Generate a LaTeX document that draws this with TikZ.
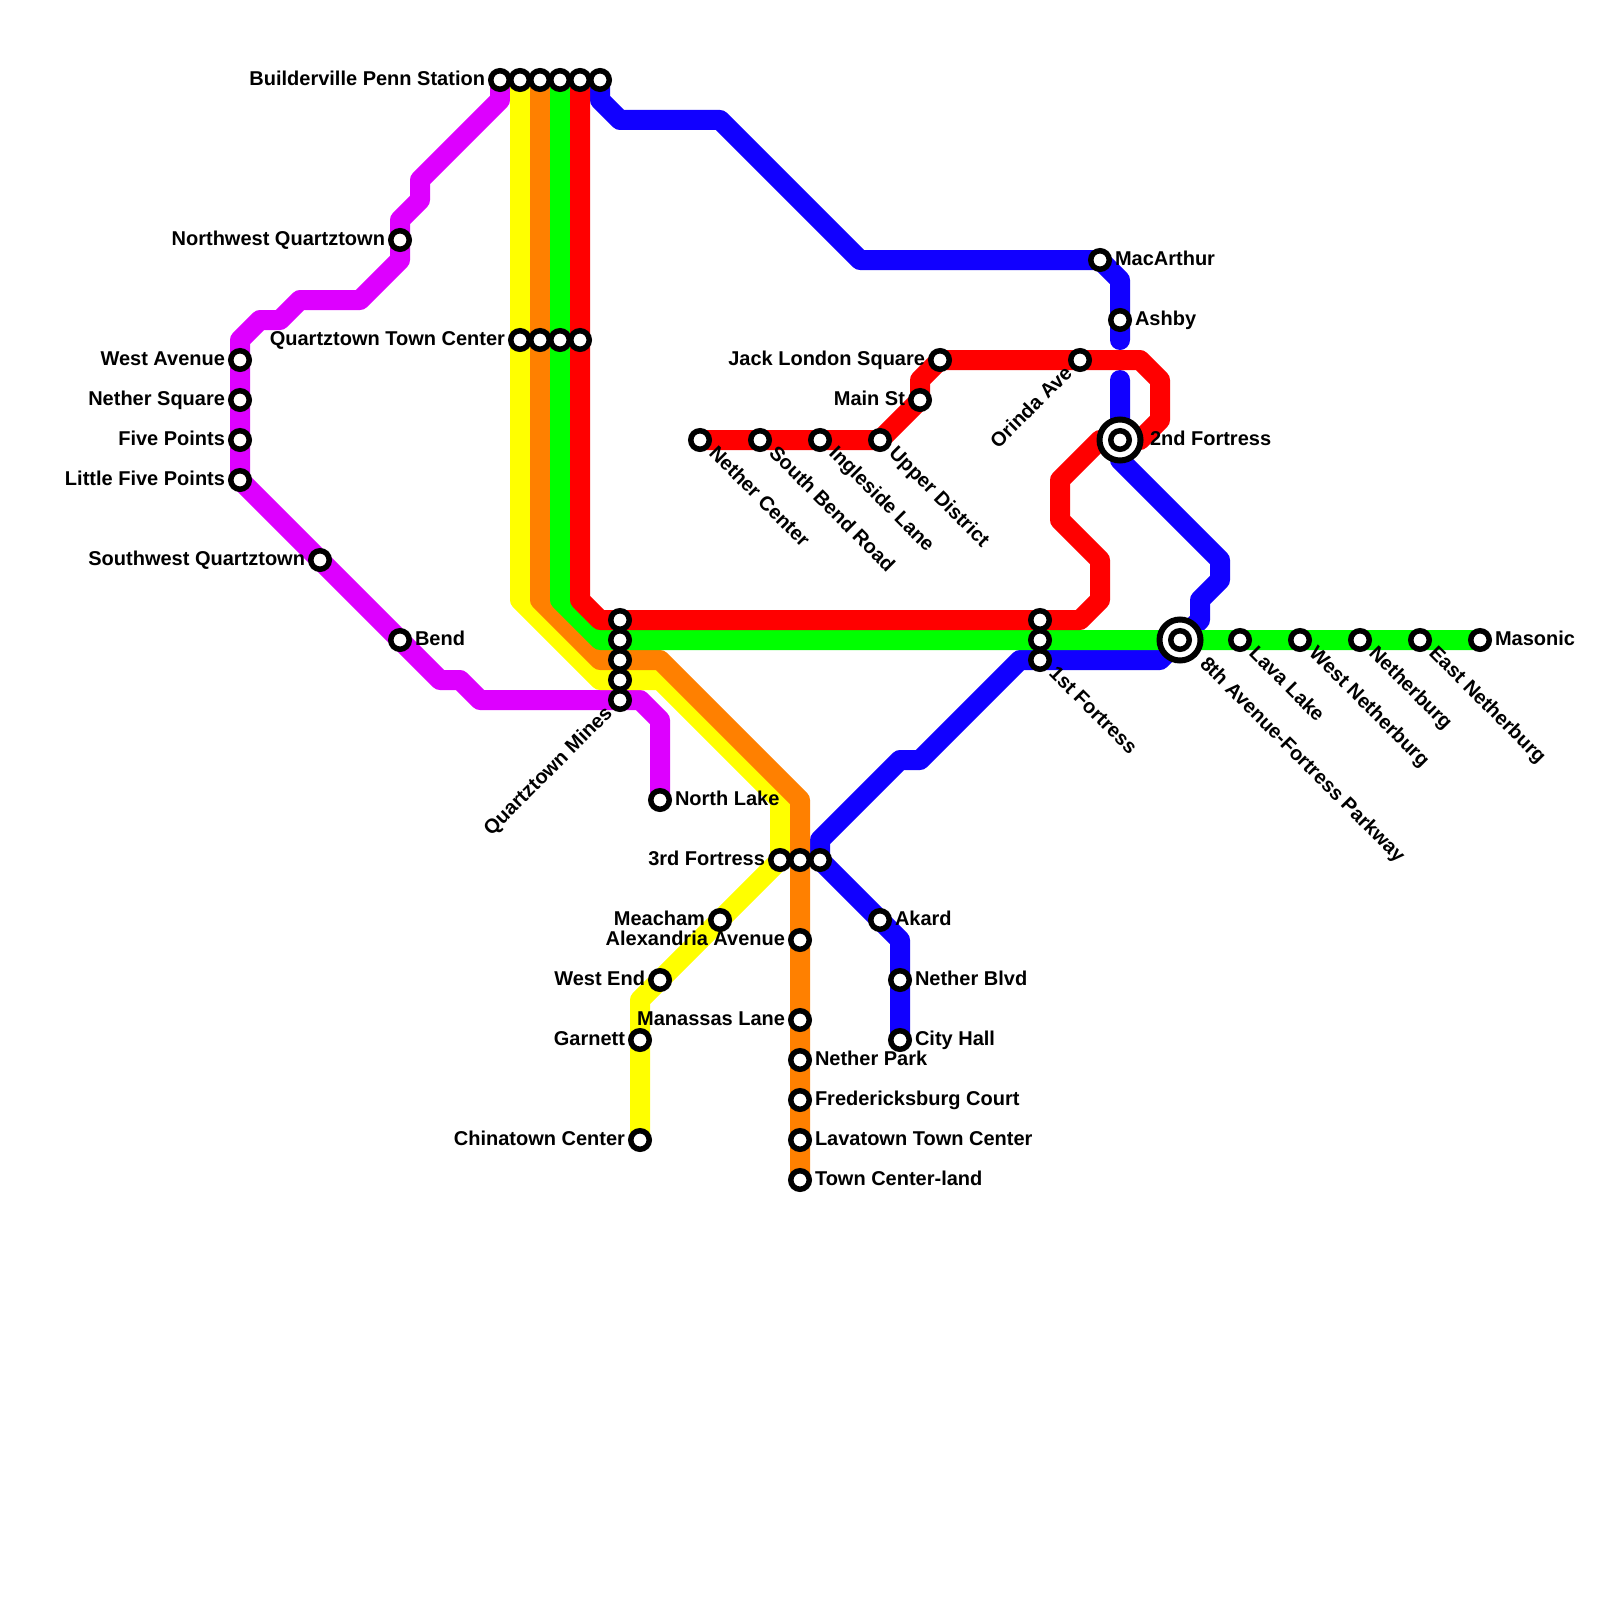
\documentclass[tikz,border=0pt]{standalone}
\usepackage{fontspec}
\setmainfont{Liberation Sans}
\usetikzlibrary{backgrounds}
\definecolor{cblue}{RGB}{17,0,255}
\definecolor{cpurple}{RGB}{221,0,255}
\definecolor{cred}{RGB}{255,0,0}
\definecolor{cgreen}{RGB}{0,255,0}
\definecolor{cyellow}{RGB}{255,255,0}
\definecolor{corange}{RGB}{255,128,0}
\tikzset{
  stn/.style={circle,draw=black,fill=white,line width=5.5pt,minimum size=18.5pt,inner sep=0pt,outer sep=0pt},
  hub/.style={circle,draw=black,fill=white,line width=6pt,minimum size=41pt,inner sep=0pt,outer sep=0pt,
    path picture={\draw[black,line width=5.5pt] (path picture bounding box.center) circle (9.25pt);}},
  lbl/.style={font=\fontsize{20}{24}\selectfont\bfseries,inner sep=0pt,outer sep=0pt,text=black},
  lblR/.style={lbl,anchor=base west,xshift=15pt,yshift=-5.5pt},
  lblL/.style={lbl,anchor=base east,xshift=-15pt,yshift=-5.5pt},
  lblDR/.style={lbl,anchor=base west,xshift=8.2pt,yshift=-14.4pt,rotate=-45},
  lblUL/.style={lbl,anchor=base east,xshift=-6.7pt,yshift=-14.5pt,rotate=45},
  lblRfar/.style={lbl,anchor=base west,xshift=30pt,yshift=-5.5pt},
  lblDRfar/.style={lbl,anchor=base west,xshift=19pt,yshift=-25pt,rotate=-45},
  metro/.style={line width=20pt,line cap=round,line join=round},
}
\begin{document}
\begin{tikzpicture}[x=1pt,y=-1pt]
\useasboundingbox (0,0) rectangle (1600,1600);
% top row
\node[stn] (t1) at (500,80) {};
\node[stn] (t2) at (520,80) {};
\node[stn] (t3) at (540,80) {};
\node[stn] (t4) at (560,80) {};
\node[stn] (t5) at (580,80) {};
\node[stn] (t6) at (600,80) {};
\node[lblL] (lt1) at (t1) {Builderville Penn Station};
% Quartztown Town Center
\node[stn] (q1) at (520,340) {};
\node[stn] (q2) at (540,340) {};
\node[stn] (q3) at (560,340) {};
\node[stn] (q4) at (580,340) {};
\node[lblL] (lq1) at (q1) {Quartztown Town Center};
% purple
\node[stn] (nwq) at (400,240) {};
\node[lblL] (lnwq) at (nwq) {Northwest Quartztown};
\node[stn] (wav) at (240,360) {};
\node[lblL] (lwav) at (wav) {West Avenue};
\node[stn] (nsq) at (240,400) {};
\node[lblL] (lnsq) at (nsq) {Nether Square};
\node[stn] (fpt) at (240,440) {};
\node[lblL] (lfpt) at (fpt) {Five Points};
\node[stn] (lfp) at (240,480) {};
\node[lblL] (llfp) at (lfp) {Little Five Points};
\node[stn] (swq) at (320,560) {};
\node[lblL] (lswq) at (swq) {Southwest Quartztown};
\node[stn] (bnd) at (400,640) {};
\node[lblR] (lbnd) at (bnd) {Bend};
\node[stn] (m1) at (620,620) {};
\node[stn] (m2) at (620,640) {};
\node[stn] (m3) at (620,660) {};
\node[stn] (m4) at (620,680) {};
\node[stn] (m5) at (620,700) {};
\node[lblUL] (lm5) at (m5) {Quartztown Mines};
\node[stn] (nlk) at (660,800) {};
\node[lblR] (lnlk) at (nlk) {North Lake};
% 3rd Fortress
\node[stn] (f1) at (780,860) {};
\node[stn] (f2) at (800,860) {};
\node[stn] (f3) at (820,860) {};
\node[lblL] (lf1) at (f1) {3rd Fortress};
% yellow
\node[stn] (mea) at (720,920) {};
\node[lblL] (lmea) at (mea) {Meacham};
\node[stn] (wed) at (660,980) {};
\node[lblL] (lwed) at (wed) {West End};
\node[stn] (gar) at (640,1040) {};
\node[lblL] (lgar) at (gar) {Garnett};
\node[stn] (chi) at (640,1140) {};
\node[lblL] (lchi) at (chi) {Chinatown Center};
% orange
\node[stn] (ale) at (800,940) {};
\node[lblL] (lale) at (ale) {Alexandria Avenue};
\node[stn] (man) at (800,1020) {};
\node[lblL] (lman) at (man) {Manassas Lane};
\node[stn] (npk) at (800,1060) {};
\node[lblR] (lnpk) at (npk) {Nether Park};
\node[stn] (fre) at (800,1100) {};
\node[lblR] (lfre) at (fre) {Fredericksburg Court};
\node[stn] (lav) at (800,1140) {};
\node[lblR] (llav) at (lav) {Lavatown Town Center};
\node[stn] (tcl) at (800,1180) {};
\node[lblR] (ltcl) at (tcl) {Town Center-land};
% blue
\node[stn] (aka) at (880,920) {};
\node[lblR] (laka) at (aka) {Akard};
\node[stn] (nbl) at (900,980) {};
\node[lblR] (lnbl) at (nbl) {Nether Blvd};
\node[stn] (cty) at (900,1040) {};
\node[lblR] (lcty) at (cty) {City Hall};
\node[stn] (mac) at (1100,260) {};
\node[lblR] (lmac) at (mac) {MacArthur};
\node[stn] (ash) at (1120,320) {};
\node[lblR] (lash) at (ash) {Ashby};
\coordinate (gapa) at (1120,340);
\coordinate (gapb) at (1120,380);
% red
\node[stn] (nce) at (700,440) {};
\node[lblDR] (lnce) at (nce) {Nether Center};
\node[stn] (sbr) at (760,440) {};
\node[lblDR] (lsbr) at (sbr) {South Bend Road};
\node[stn] (ing) at (820,440) {};
\node[lblDR] (ling) at (ing) {Ingleside Lane};
\node[stn] (upd) at (880,440) {};
\node[lblDR] (lupd) at (upd) {Upper District};
\node[stn] (mst) at (920,400) {};
\node[lblL] (lmst) at (mst) {Main St};
\node[stn] (jls) at (940,360) {};
\node[lblL] (ljls) at (jls) {Jack London Square};
\node[stn] (ori) at (1080,360) {};
\node[lblUL] (lori) at (ori) {Orinda Ave};
\node[hub] (snd) at (1120,440) {};
\node[lblRfar] (lsnd) at (snd) {2nd Fortress};
% 1st Fortress
\node[stn] (a1) at (1040,620) {};
\node[stn] (a2) at (1040,640) {};
\node[stn] (a3) at (1040,660) {};
\node[lblDR] (la3) at (a3) {1st Fortress};
% green
\node[hub] (eig) at (1180,640) {};
\node[lblDRfar] (leig) at (eig) {8th Avenue-Fortress Parkway};
\node[stn] (lla) at (1240,640) {};
\node[lblDR] (llla) at (lla) {Lava Lake};
\node[stn] (wne) at (1300,640) {};
\node[lblDR] (lwne) at (wne) {West Netherburg};
\node[stn] (net) at (1360,640) {};
\node[lblDR] (lnet) at (net) {Netherburg};
\node[stn] (ene) at (1420,640) {};
\node[lblDR] (lene) at (ene) {East Netherburg};
\node[stn] (mas) at (1480,640) {};
\node[lblR] (lmas) at (mas) {Masonic};
\begin{scope}[on background layer]
\fill[white] (0,0) rectangle (1600,1600);
\draw[metro,cblue] (t6.center) -- (600,100) -- (620,120) -- (720,120) -- (860,260) -- (mac.center) -- (1120,280) -- (ash.center) -- (gapa);
\draw[metro,cblue] (gapb) -- (snd.center) -- (1120,460) -- (1220,560) -- (1220,580) -- (1200,600) -- (1200,620) -- (eig.center) -- (1160,660) -- (a3.center) -- (1020,660) -- (920,760) -- (900,760) -- (820,840) -- (f3.center) -- (aka.center) -- (900,940) -- (nbl.center) -- (cty.center);
\draw[metro,cpurple] (t1.center) -- (500,100) -- (420,180) -- (420,200) -- (400,220) -- (nwq.center) -- (400,260) -- (360,300) -- (300,300) -- (280,320) -- (260,320) -- (240,340) -- (wav.center) -- (nsq.center) -- (fpt.center) -- (lfp.center) -- (swq.center) -- (bnd.center) -- (440,680) -- (460,680) -- (480,700) -- (m5.center) -- (640,700) -- (660,720) -- (nlk.center);
\draw[metro,cyellow] (t2.center) -- (q1.center) -- (520,600) -- (600,680) -- (m4.center) -- (660,680) -- (780,800) -- (f1.center) -- (mea.center) -- (wed.center) -- (640,1000) -- (gar.center) -- (chi.center);
\draw[metro,corange] (t3.center) -- (q2.center) -- (540,600) -- (600,660) -- (m3.center) -- (660,660) -- (800,800) -- (f2.center) -- (ale.center) -- (man.center) -- (npk.center) -- (fre.center) -- (lav.center) -- (tcl.center);
\draw[metro,cgreen] (t4.center) -- (q3.center) -- (560,600) -- (600,640) -- (m2.center) -- (a2.center) -- (eig.center) -- (lla.center) -- (wne.center) -- (net.center) -- (ene.center) -- (mas.center);
\draw[metro,cred] (t5.center) -- (q4.center) -- (580,600) -- (600,620) -- (m1.center) -- (a1.center) -- (1080,620) -- (1100,600) -- (1100,560) -- (1060,520) -- (1060,480) -- (1100,440) -- (snd.center) -- (1140,440) -- (1160,420) -- (1160,380) -- (1140,360) -- (ori.center) -- (jls.center) -- (920,380) -- (mst.center) -- (upd.center) -- (ing.center) -- (sbr.center) -- (nce.center);
\end{scope}
\end{tikzpicture}
\end{document}
